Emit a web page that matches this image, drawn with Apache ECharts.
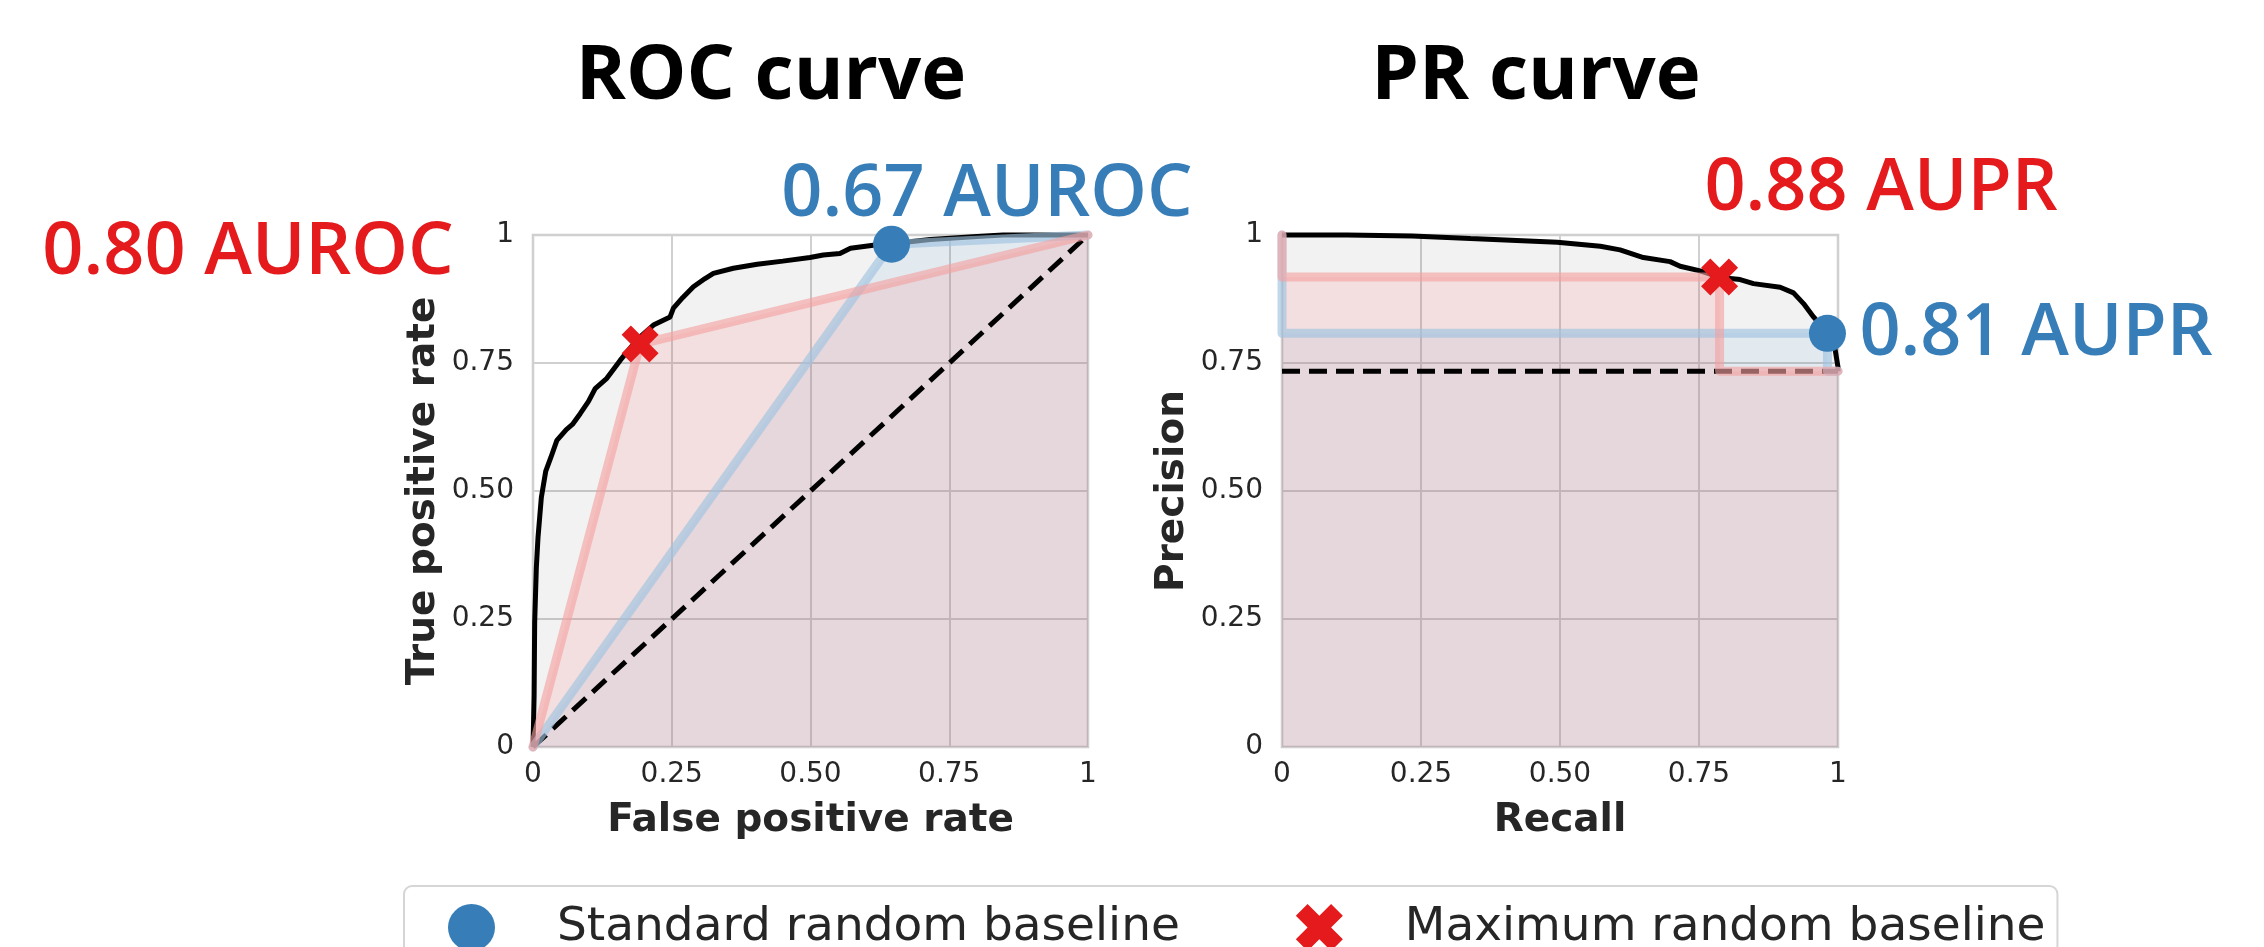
<!DOCTYPE html>
<html>
<head>
<meta charset="utf-8">
<script src="https://cdn.jsdelivr.net/npm/echarts@6/dist/echarts.min.js"></script>
<style>
html, body { margin: 0; padding: 0; background: #ffffff; }
#main { width: 2264px; height: 947px; }
</style>
</head>
<body>
<div id="main"></div>
<script>
// ---------------- data ----------------
const tickValues = [0, 0.25, 0.5, 0.75, 1];
const tickLabels = ['0', '0.25', '0.50', '0.75', '1'];

const chartTitles = ['ROC curve', 'PR curve'];
const axisNames = { rocX: 'False positive rate', rocY: 'True positive rate', prX: 'Recall', prY: 'Precision' };
const seriesNames = ['Standard random baseline', 'Maximum random baseline'];

// ROC curve of the model
const rocFpr = [0, 0.002, 0.003, 0.006, 0.009, 0.015, 0.023, 0.032, 0.043, 0.06, 0.071, 0.085, 0.1, 0.112, 0.133, 0.157, 0.187, 0.217, 0.247, 0.253, 0.27, 0.289, 0.31, 0.325, 0.361, 0.404, 0.45, 0.499, 0.523, 0.553, 0.572, 0.613, 0.646, 0.716, 0.8, 0.847, 1];
const rocTpr = [0, 0.1, 0.243, 0.35, 0.409, 0.487, 0.539, 0.565, 0.599, 0.62, 0.63, 0.651, 0.675, 0.7, 0.72, 0.755, 0.795, 0.824, 0.84, 0.857, 0.878, 0.899, 0.915, 0.925, 0.935, 0.943, 0.949, 0.956, 0.961, 0.964, 0.974, 0.98, 0.983, 0.991, 0.997, 1, 1];

// ROC random baselines (operating points)
const rocStandardPoint = [0.646, 0.982];
const rocMaximumPoint = [0.193, 0.787];
const rocStandardText = '0.67 AUROC';
const rocMaximumText = '0.80 AUROC';

// PR curve of the model
const prRecall = [0, 0.117, 0.234, 0.339, 0.495, 0.5725, 0.608, 0.65, 0.698, 0.716, 0.752, 0.788, 0.824, 0.848, 0.896, 0.92, 0.938, 0.956, 0.972, 0.985, 0.995, 1, 1];
const prPrecision = [1, 1, 0.998, 0.993, 0.986, 0.978, 0.971, 0.956, 0.948, 0.939, 0.93, 0.917, 0.913, 0.905, 0.898, 0.887, 0.866, 0.84, 0.82, 0.8, 0.775, 0.742, 0.734];

// PR random baselines
const prPrevalence = 0.734;
const prStandardPoint = [0.981, 0.808];
const prMaximumPoint = [0.787, 0.918];
const prStandardText = '0.81 AUPR';
const prMaximumText = '0.88 AUPR';

// ---------------- build ----------------
const zip = (a, b) => a.map((v, i) => [v, b[i]]);
const rocCurve = zip(rocFpr, rocTpr);
const prCurve = zip(prRecall, prPrecision);
const rocDiagonal = [[0, 0], [1, 1]];
const rocStandardLine = [[0, 0], rocStandardPoint, [1, 1]];
const rocMaximumLine = [[0, 0], rocMaximumPoint, [1, 1]];
const prStep = p => [[0, 1], [0, p[1]], [p[0], p[1]], [p[0], prPrevalence], [1, prPrevalence]];
const prBaselineLine = [[0, prPrevalence], [1, prPrevalence]];

const BLUE = '#377eb8';
const RED = '#e41a1c';
const TXT = '#262626';
const X_PATH = 'path://M1,0L2,1L3,0L4,1L3,2L4,3L3,4L2,3L1,4L0,3L1,2L0,1Z';

const labelFmt = v => tickLabels[Math.round(v / 0.25)];

function makeAxis(gridIndex, name, isX) {
  return {
    type: 'value', gridIndex: gridIndex, min: 0, max: 1, interval: 0.25,
    name: name, nameLocation: 'middle', nameGap: isX ? 54 : 90,
    nameTextStyle: { fontFamily: 'DejaVu Sans', fontWeight: 'bold', fontSize: 39, color: TXT },
    axisLine: { show: false }, axisTick: { show: false },
    axisLabel: { formatter: labelFmt, fontFamily: 'DejaVu Sans', fontSize: 28, color: TXT, margin: isX ? 14 : 19 },
    splitLine: { show: true, lineStyle: { color: '#d0d0d0', width: 2 } }
  };
}

function greyArea(data, xi) {
  return { type: 'line', xAxisIndex: xi, yAxisIndex: xi, data: data, symbol: 'none', silent: true,
    lineStyle: { width: 0 }, areaStyle: { color: 'rgba(0,0,0,0.075)' }, animation: false };
}
function blackLine(data, xi, dashed) {
  return { type: 'line', xAxisIndex: xi, yAxisIndex: xi, data: data, symbol: 'none', clip: false,
    lineStyle: { color: '#000', width: 5, type: dashed ? [18, 9] : 'solid' }, animation: false };
}
function baseLine(data, xi, color, fill) {
  return { type: 'line', xAxisIndex: xi, yAxisIndex: xi, data: data, symbol: 'none', clip: false,
    lineStyle: { color: color, width: 9, join: 'round', cap: 'round' }, areaStyle: { color: fill }, animation: false };
}
function marker(name, point, xi, isX) {
  return { type: 'scatter', name: name, xAxisIndex: xi, yAxisIndex: xi, data: [point], z: 5, clip: false,
    symbol: isX ? X_PATH : 'circle', symbolSize: 37, itemStyle: { color: isX ? RED : BLUE, opacity: 1 }, animation: false };
}

const blueLineC = 'rgba(160,195,225,0.65)';
const redLineC = 'rgba(244,160,160,0.62)';
const blueFill = 'rgba(80,150,210,0.14)';
const redFill = 'rgba(250,120,120,0.22)';

const chart = echarts.init(document.getElementById('main'), null, { renderer: 'canvas' });
chart.setOption({
  backgroundColor: '#ffffff',
  animation: false,
  grid: [
    { left: 533, top: 235, width: 555, height: 512, show: true, borderColor: '#cccccc', borderWidth: 2.5, backgroundColor: 'transparent' },
    { left: 1282, top: 235, width: 556, height: 512, show: true, borderColor: '#cccccc', borderWidth: 2.5, backgroundColor: 'transparent' }
  ],
  xAxis: [makeAxis(0, axisNames.rocX, true), makeAxis(1, axisNames.prX, true)],
  yAxis: [makeAxis(0, axisNames.rocY, false), makeAxis(1, axisNames.prY, false)],
  legend: {
    data: [{ name: seriesNames[0], icon: 'circle' }, { name: seriesNames[1], icon: X_PATH }],
    left: 404, top: 886, itemWidth: 47, itemHeight: 47, itemGap: 116,
    padding: [18, 12, 18, 44], borderColor: '#d6d6d6', borderWidth: 2, borderRadius: 8,
    selectedMode: false,
    textStyle: { fontFamily: 'DejaVu Sans', fontSize: 47, color: TXT, padding: [0, 0, 0, 57] }
  },
  graphic: [
    { type: 'text', x: 771, y: 77, style: { text: chartTitles[0], fill: '#000', font: '700 76px "Open Sans"', align: 'center', verticalAlign: 'middle' } },
    { type: 'text', x: 1536, y: 77, style: { text: chartTitles[1], fill: '#000', font: '700 76px "Open Sans"', align: 'center', verticalAlign: 'middle' } },
    { type: 'text', x: 987, y: 195, style: { text: rocStandardText, fill: BLUE, font: '600 72px "Open Sans"', align: 'center', verticalAlign: 'middle' } },
    { type: 'text', x: 248, y: 253, style: { text: rocMaximumText, fill: RED, font: '600 72px "Open Sans"', align: 'center', verticalAlign: 'middle' } },
    { type: 'text', x: 1881, y: 189, style: { text: prMaximumText, fill: RED, font: '600 72px "Open Sans"', align: 'center', verticalAlign: 'middle' } },
    { type: 'text', x: 2036, y: 334, style: { text: prStandardText, fill: BLUE, font: '600 72px "Open Sans"', align: 'center', verticalAlign: 'middle' } }
  ],
  series: [
    greyArea(rocCurve, 0),
    blackLine(rocCurve, 0, false),
    blackLine(rocDiagonal, 0, true),
    baseLine(rocStandardLine, 0, blueLineC, blueFill),
    baseLine(rocMaximumLine, 0, redLineC, redFill),
    marker(seriesNames[0], rocStandardPoint, 0, false),
    marker(seriesNames[1], rocMaximumPoint, 0, true),

    greyArea(prCurve, 1),
    blackLine(prCurve, 1, false),
    blackLine(prBaselineLine, 1, true),
    baseLine(prStep(prStandardPoint), 1, blueLineC, blueFill),
    baseLine(prStep(prMaximumPoint), 1, redLineC, redFill),
    marker(seriesNames[0], prStandardPoint, 1, false),
    marker(seriesNames[1], prMaximumPoint, 1, true)
  ]
});
</script>
</body>
</html>
